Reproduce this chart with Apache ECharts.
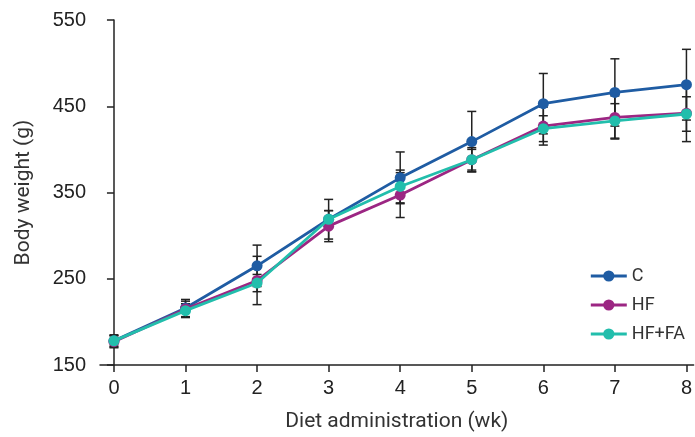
<!DOCTYPE html>
<html>
<head>
<meta charset="utf-8">
<script src="https://cdn.jsdelivr.net/npm/echarts@6/dist/echarts.min.js"></script>
<style>html,body{margin:0;padding:0;background:#fff;}#c{width:695px;height:437px;}</style>
</head>
<body>
<div id="c"></div>
<script>
var weeks = [0, 1, 2, 3, 4, 5, 6, 7, 8];
var seriesNames = ['C', 'HF', 'HF+FA'];
var cMean = [178, 216, 265, 319, 367, 409, 453, 466, 475];
var cErr = [7, 10, 24, 23, 30, 35, 35, 39, 41];
var hfMean = [177, 215, 248, 311, 347, 388, 427, 437, 442];
var hfErr = [7, 9, 28, 18, 26, 14, 22, 25, 33];
var hffaMean = [178, 213, 245, 319, 357, 388, 424, 433, 441];
var hffaErr = [6, 8, 10, 10, 19, 12, 15, 20, 20];
var yTicks = [150, 250, 350, 450, 550];
var xTicks = [0, 1, 2, 3, 4, 5, 6, 7, 8];
var colors = ['#1f5ca3', '#9c2683', '#22beac'];

var means = [cMean, hfMean, hffaMean];
var errs = [cErr, hfErr, hffaErr];

function errData(m, e) {
  return weeks.map(function (w, i) { return [w, m[i] - e[i], m[i] + e[i]]; });
}
function renderErr(params, api) {
  var x = api.value(0);
  var lo = api.coord([x, api.value(1)]);
  var hi = api.coord([x, api.value(2)]);
  var cap = 4.5;
  var style = { stroke: '#222', lineWidth: 1.5, fill: null };
  return {
    type: 'group',
    children: [
      { type: 'line', shape: { x1: hi[0], y1: hi[1], x2: lo[0], y2: lo[1] }, style: style },
      { type: 'line', shape: { x1: hi[0] - cap, y1: hi[1], x2: hi[0] + cap, y2: hi[1] }, style: style },
      { type: 'line', shape: { x1: lo[0] - cap, y1: lo[1], x2: lo[0] + cap, y2: lo[1] }, style: style }
    ]
  };
}

var series = [];
for (var k = 0; k < 3; k++) {
  series.push({
    type: 'custom',
    name: seriesNames[k] + ' err',
    renderItem: renderErr,
    data: errData(means[k], errs[k]),
    z: 1,
    silent: true
  });
}
for (var k2 = 0; k2 < 3; k2++) {
  series.push({
    type: 'line',
    name: seriesNames[k2],
    data: weeks.map(function (w, i) { return [w, means[k2][i]]; }),
    symbol: 'circle',
    symbolSize: 11,
    color: colors[k2],
    lineStyle: { width: 2.8, color: colors[k2] },
    itemStyle: { color: colors[k2] },
    z: 3 + k2
  });
}

var chart = echarts.init(document.getElementById('c'), null, { renderer: 'canvas' });
chart.setOption({
  animation: false,
  backgroundColor: '#fff',
  grid: { left: 100, right: 0, top: 20, bottom: 70, containLabel: false },
  legend: {
    data: seriesNames,
    orient: 'vertical',
    right: 5,
    top: 262,
    itemWidth: 36,
    itemHeight: 14,
    itemGap: 11,
    lineStyle: { width: 3 },
    textStyle: { fontSize: 18, color: '#333', fontFamily: 'Roboto, sans-serif' }
  },
  xAxis: {
    type: 'value',
    min: -0.195,
    max: 8.1,
    name: 'Diet administration (wk)',
    nameLocation: 'middle',
    nameGap: 46,
    nameTextStyle: { fontSize: 21, color: '#333', fontFamily: 'Roboto, sans-serif' },
    splitLine: { show: false },
    axisLine: { lineStyle: { color: '#222', width: 1.5 } },
    axisTick: { show: true, customValues: xTicks, length: 7, lineStyle: { color: '#222', width: 1.5 } },
    axisLabel: { customValues: xTicks, fontSize: 20, color: '#222', margin: 13, fontFamily: 'Liberation Sans, Arial, sans-serif' }
  },
  yAxis: {
    type: 'value',
    min: 150,
    max: 550,
    name: 'Body weight (g)',
    nameLocation: 'middle',
    nameGap: 66,
    nameRotate: 90,
    nameTextStyle: { fontSize: 21, color: '#333', fontFamily: 'Roboto, sans-serif' },
    splitLine: { show: false },
    axisLine: { show: true, lineStyle: { color: '#222', width: 1.5 } },
    axisTick: { show: true, customValues: yTicks, length: 7, lineStyle: { color: '#222', width: 1.5 } },
    axisLabel: { customValues: yTicks, fontSize: 20, color: '#222', margin: 14, fontFamily: 'Liberation Sans, Arial, sans-serif' }
  },
  series: series
});
</script>
</body>
</html>
